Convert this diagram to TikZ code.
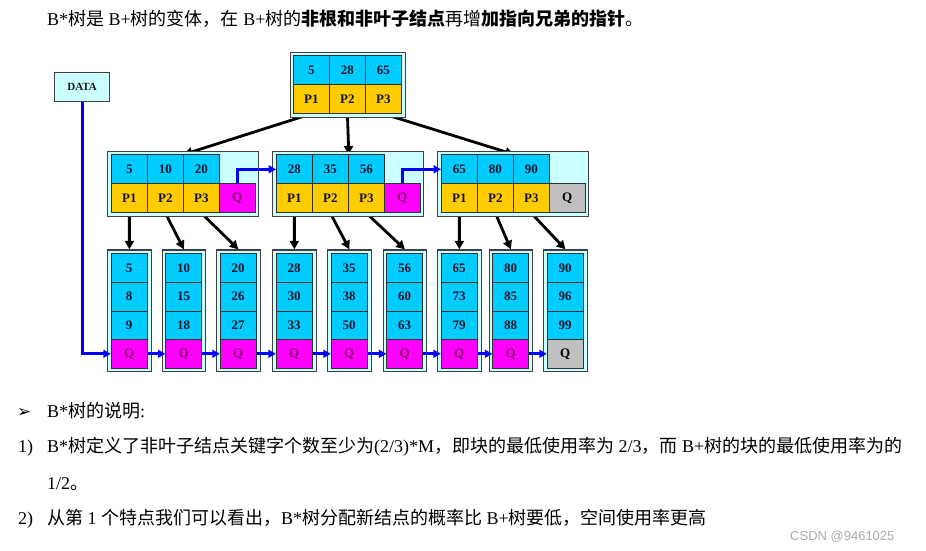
\documentclass[tikz,border=0pt]{standalone}
\usepackage{fontspec}
\setmainfont{Liberation Serif}
\newfontfamily\cjk{Noto Sans CJK SC}
\newfontfamily\dejavu{DejaVu Sans}
\newfontfamily\wmfont{Liberation Sans}
\usetikzlibrary{arrows.meta,backgrounds,calc}
\definecolor{keyblue}{RGB}{0,204,255}
\definecolor{ptryellow}{RGB}{255,204,0}
\definecolor{qmag}{RGB}{255,0,255}
\definecolor{qgray}{RGB}{192,192,192}
\definecolor{framefill}{RGB}{204,255,255}
\definecolor{framedraw}{RGB}{64,64,64}
\definecolor{celldraw}{RGB}{50,50,50}
\definecolor{celltext}{RGB}{20,20,40}
\definecolor{qtext}{RGB}{130,0,100}
\definecolor{linkblue}{RGB}{0,0,255}
\definecolor{wmgray}{RGB}{170,170,170}
\newcommand\zh[1]{{\cjk #1}}
\tikzset{
  cellbox/.style={draw=celldraw, line width=0.8pt, inner sep=0pt, minimum width=36pt, minimum height=29pt,
    font=\fontsize{13}{13}\selectfont\bfseries, text=celltext, anchor=north west},
  keycell/.style={cellbox, fill=keyblue},
  ptrcell/.style={cellbox, fill=ptryellow},
  qm/.style={cellbox, fill=qmag, text=qtext},
  qg/.style={cellbox, fill=qgray, text=black},
  framebox/.style={draw=framedraw, fill=framefill, line width=1.2pt, inner sep=0pt, anchor=north west},
  blk/.style={line width=2.8pt, black, -{Triangle[length=8.5pt,width=9pt]}},
  blu/.style={line width=3pt, linkblue, -{Triangle[length=7.5pt,width=8pt]}},
  txt/.style={anchor=base west, inner sep=0pt, font=\fontsize{18}{18}\selectfont},
}
\begin{document}
\begin{tikzpicture}[x=1pt,y=-1pt]
\useasboundingbox (0,0) rectangle (926,550);

% title line
\node[txt] (t1) at (47,25.5) {B*\zh{树是} B+\zh{树的变体，在} B+\zh{树的}\textbf{\zh{非根和非叶子结点}}\zh{再增}\textbf{\zh{加指向兄弟的指针}}\zh{。}};

% DATA box
\node[framebox, line width=1pt, minimum width=54.7pt, minimum height=29pt, font=\fontsize{11}{11}\selectfont\bfseries, text=celltext] (data) at (54.3,72.3) {DATA};

% root
\node[framebox, minimum width=114.5pt, minimum height=64.5pt] (root) at (290,52) {};
\node[keycell] (rk1) at (293,55) {5};
\node[keycell] (rk2) at (329,55) {28};
\node[keycell] (rk3) at (365,55) {65};
\node[ptrcell] (rp1) at (293,84) {P1};
\node[ptrcell] (rp2) at (329,84) {P2};
\node[ptrcell] (rp3) at (365,84) {P3};

% middle level
\foreach \m/\L/\a/\b/\c/\qs in {1/107/5/10/20/qm, 2/272/28/35/56/qm, 3/437/65/80/90/qg}{
  \node[framebox, minimum width=151pt, minimum height=64.8pt] (mid\m) at (\L,150.7) {};
  \node[keycell] (m\m k1) at (\L+4,154.4) {\a};
  \node[keycell] (m\m k2) at (\L+40,154.4) {\b};
  \node[keycell] (m\m k3) at (\L+76,154.4) {\c};
  \node[ptrcell] (m\m p1) at (\L+4,183.4) {P1};
  \node[ptrcell] (m\m p2) at (\L+40,183.4) {P2};
  \node[ptrcell] (m\m p3) at (\L+76,183.4) {P3};
  \node[\qs, minimum width=35.5pt] (m\m q) at (\L+112,183.4) {Q};
}

% leaves
\foreach \i/\L/\a/\b/\c/\qs in {1/107/5/8/9/qm, 2/161.5/10/15/18/qm, 3/216/20/26/27/qm,
  4/272/28/30/33/qm, 5/327/35/38/50/qm, 6/382.5/56/60/63/qm,
  7/437/65/73/79/qm, 8/488.5/80/85/88/qm, 9/543/90/96/99/qg}{
  \node[framebox, minimum width=43.5pt, minimum height=121.4pt] (leaf\i) at (\L,249.3) {};
  \node[keycell, minimum height=28.6pt] (l\i a) at (\L+3.75,253.3) {\a};
  \node[keycell, minimum height=28.6pt] (l\i b) at (\L+3.75,281.9) {\b};
  \node[keycell, minimum height=28.6pt] (l\i c) at (\L+3.75,310.5) {\c};
  \node[\qs, minimum height=28.6pt] (l\i q) at (\L+3.75,339.1) {Q};
}

% tree pointers (black), behind the frames
\begin{scope}[on background layer]
\draw[blk] (rp1.south) -- (m1k2.north east);
\draw[blk] (rp2.south) -- (m2k2.north east);
\draw[blk] (rp3.south) -- (m3k2.north east);
\draw[blk] (m1p1.south) -- (leaf1.north);
\draw[blk] (m1p2.south) -- (leaf2.north);
\draw[blk] (m1p3.south) -- (leaf3.north);
\draw[blk] (m2p1.south) -- (leaf4.north);
\draw[blk] (m2p2.south) -- (leaf5.north);
\draw[blk] (m2p3.south) -- (leaf6.north);
\draw[blk] (m3p1.south) -- (leaf7.north);
\draw[blk] (m3p2.south) -- (leaf8.north);
\draw[blk] (m3p3.south) -- (leaf9.north);
\end{scope}

% sibling pointers (blue)
\draw[blu] (m1q.north) |- (m2k1.west);
\draw[blu] (m2q.north) |- (m3k1.west);
\draw[blu] (data.south) |- (l1q.west);
\foreach \i/\j in {1/2,2/3,3/4,4/5,5/6,6/7,7/8,8/9}{
  \draw[blu] (l\i q.east) -- (l\j q.west);
}

% explanation text
\node[anchor=base west, inner sep=0pt, font=\dejavu\bfseries\fontsize{17}{17}\selectfont] (bul) at (17,417) {➢};
\node[txt] (t2) at (47,417.5) {B*\zh{树的说明}:};
\node[txt] (n1) at (18,452.5) {1)};
\node[txt] (t3) at (47,452.5) {B*\zh{树定义了非叶子结点关键字个数至少为}(2/3)*M\zh{，即块的最低使用率为} 2/3\zh{，而} B+\zh{树的块的最低使用率为的}};
\node[txt] (t4) at (47,489) {1/2\zh{。}};
\node[txt] (n2) at (18,524.5) {2)};
\node[txt] (t5) at (47,524.5) {\zh{从第} 1 \zh{个特点我们可以看出，}B*\zh{树分配新结点的概率比} B+\zh{树要低，空间使用率更高}};

% watermark
\node[anchor=base west, inner sep=0pt, text=wmgray, font=\wmfont\fontsize{13}{13}\selectfont] (wm) at (790,540) {CSDN @9461025};
\end{tikzpicture}
\end{document}
